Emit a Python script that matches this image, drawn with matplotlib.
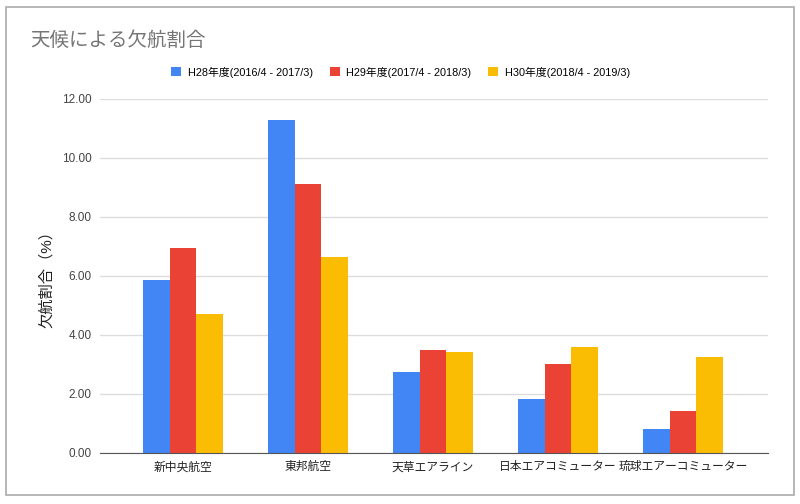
import matplotlib.pyplot as plt
import numpy as np
from matplotlib.patches import Rectangle

plt.rcParams['font.family'] = ['Liberation Sans', 'Noto Sans CJK JP', 'DejaVu Sans']

# データ
airlines = ['新中央航空', '東邦航空', '天草エアライン', '日本エアコミューター', '琉球エアーコミューター']
series_names = ['H28年度(2016/4 - 2017/3)', 'H29年度(2017/4 - 2018/3)', 'H30年度(2018/4 - 2019/3)']
h28 = [5.86, 11.29, 2.75, 1.83, 0.81]
h29 = [6.95, 9.12, 3.49, 3.02, 1.42]
h30 = [4.71, 6.64, 3.42, 3.59, 3.25]
colors = ['#4285F4', '#EA4335', '#FBBC04']

fig = plt.figure(figsize=(8, 5.04), dpi=100)
ax = fig.add_axes([0.125, 0.1012, 0.835, 0.7024])

x = np.arange(len(airlines))
w = 0.212
for i, (vals, name, c) in enumerate(zip([h28, h29, h30], series_names, colors)):
    ax.bar(x + (i - 1) * w, vals, width=w, color=c, label=name, zorder=3)

ax.set_xlim(-0.664, 4.68)
ax.set_ylim(0, 12)
ax.set_yticks(np.arange(0, 12.1, 2))
ax.set_yticklabels([f'{v:.2f}' for v in np.arange(0, 12.1, 2)], fontsize=8.5, color='#444444')
ax.set_xticks(x)
ax.set_xticklabels(airlines, fontsize=8.5, color='#222222')
ax.tick_params(length=0, pad=6)
ax.grid(axis='y', color='#dddddd', linewidth=1, zorder=0)
for s in ['top', 'right', 'left']:
    ax.spines[s].set_visible(False)
ax.spines['bottom'].set_color('#555555')
ax.spines['bottom'].set_zorder(4)
ax.set_ylabel('欠航割合（%）', fontsize=11, color='#222222', labelpad=6)

fig.text(0.038, 0.92, '天候による欠航割合', fontsize=14, color='#757575', va='center')
ax.legend(loc='center', bbox_to_anchor=(0.45, 1.076), ncol=3, frameon=False,
          fontsize=7.8, handlelength=0.9, handleheight=0.9, handletextpad=0.6,
          columnspacing=1.6)

fig.patches.append(Rectangle((0.007, 0.018), 0.985, 0.968, transform=fig.transFigure,
                             fill=False, edgecolor='#aaaaaa', linewidth=1.2))

plt.savefig('out.png', dpi=100)
